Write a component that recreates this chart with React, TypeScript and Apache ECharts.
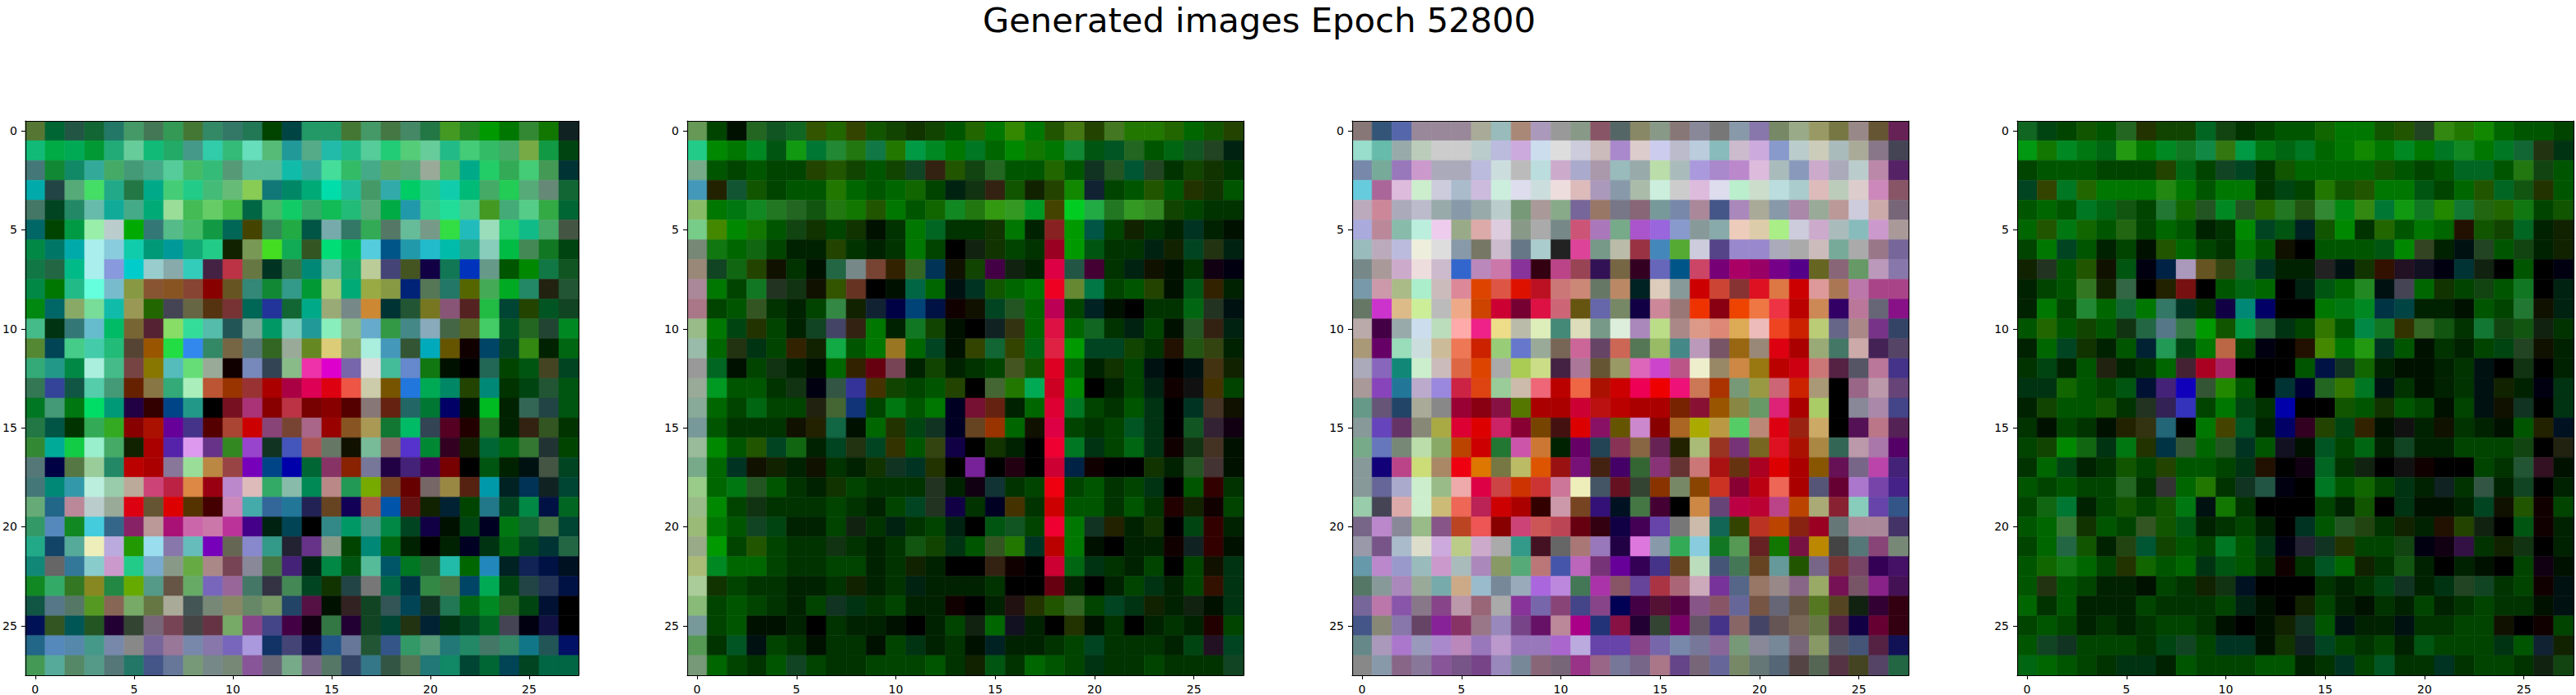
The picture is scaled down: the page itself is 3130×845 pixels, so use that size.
import { useEffect, useRef } from 'react';
import * as echarts from 'echarts';

const TITLE = 'Generated images Epoch 52800';
const TICKS = [0, 5, 10, 15, 20, 25];
const SIZE = 28;

// each row: 28 cells, short hex colours, left to right; rows top to bottom
const image1 = [
  '573 063 254 163 276 496 475 395 473 386 376 275 040 044 296 296 473 496 474 486 274 492 282 090 070 383 170 122',
  '1b7 0a4 0a5 093 2a7 6c9 1b7 2a6 498 3ca 3b7 6db 5b7 299 5a8 2ba 2b8 5c9 2c7 5c7 6c9 2b8 4c7 3b6 4a6 7a4 194 041',
  '477 183 186 3a9 4a6 497 4a8 5c9 4b6 3b7 597 5b9 5b9 1ba 3a9 4d9 3b6 4a8 5a6 5a7 9a9 4b6 0a8 2c6 3a5 4c7 495 033',
  '0aa 244 5a7 4d6 2a8 274 0a8 4c7 2c8 4b7 6b7 8c5 177 086 0a7 0da 2b9 496 3aa 0c6 2c8 1ca 0b7 4a6 2c5 5a7 687 163',
  '476 042 286 6ba 1a9 4a8 0a7 9d9 4b5 6c6 4b4 064 4b6 1c6 3a6 1b5 2b7 5a7 0a4 29a 3c8 2d9 4c8 492 4a7 5c8 3a4 063',
  '066 040 094 9ea bcc 0a0 377 5b8 4b6 194 065 440 385 2a4 054 7aa 376 3a5 576 6b9 798 3d4 2bb 9db 2c6 1b8 4a6 454',
  '084 076 0aa aee 8cd 1ca 097 099 1a7 2c8 120 795 4d2 1a5 352 0d7 0b5 5cd 058 29a 2bc 0ba 2a8 8cb 0b4 485 172 041',
  '174 264 0b8 aee 89d 0cc 9cc 8aa 3cb 424 b34 674 032 374 087 6ba 1a6 bc9 447 452 104 175 03b 698 050 080 174 152',
  '084 070 2b8 6fd 7bc 894 853 852 843 800 652 387 183 398 093 ac7 0a7 9a4 894 027 575 276 560 4a5 0a2 286 221 253',
  '081 066 8a6 7d9 1ba 995 260 445 664 531 733 065 239 163 0a8 9a7 788 c83 033 253 772 857 522 2b4 043 240 052 142',
  '4b8 031 377 6bc 0b6 763 523 8d6 3d9 5ba 255 7a9 096 7cb 299 8eb 8b8 6ac 394 488 8ab 464 562 4c6 052 262 243 082',
  '583 045 4c8 4ca 2b7 543 950 2d4 38e 386 764 577 362 9a9 682 dc7 8a6 aed 49b 353 0ab 650 100 046 042 381 020 061',
  '3a7 298 084 aed 4b8 744 870 5bb 6d7 9a9 100 78b 345 8b8 e3a d0c 76a ddd 4b9 68c 171 010 000 265 040 051 442 042',
  '375 349 154 5ca 497 620 874 3a7 aeb b53 930 933 a00 a04 d05 d01 e54 cca 750 27d 0a5 086 240 087 030 041 253 051',
  '072 497 071 0d6 097 204 300 048 298 000 712 a37 800 b34 700 800 500 877 621 266 073 006 010 0b2 020 365 244 051',
  '274 054 030 3a5 3a2 800 a10 609 438 500 a43 c00 847 743 a68 900 852 a95 173 0b6 345 502 200 272 020 321 352 030',
  '383 0a9 1c4 9ec 4a6 120 a00 52a d9e 638 382 94c 132 45b a55 676 110 7b9 866 53c 083 302 120 063 061 373 233 040',
  '577 004 574 9c9 286 b00 a00 879 9d9 b84 944 70b 048 00a 063 836 820 779 204 427 405 700 000 051 020 011 454 042',
  '477 087 39a bed 9ca ba9 c47 b24 d84 901 b8c dbb 3a6 8ba 085 b88 295 7a0 742 600 766 984 521 09a 022 035 122 043',
  '6a7 268 b89 bcc 9a9 d01 653 d00 530 400 c8b 4aa 369 279 225 642 105 a54 05a 611 120 023 040 278 042 084 014 062',
  '396 58b 182 4cd 368 826 b99 a17 c6a c7a b39 408 021 045 000 388 096 498 084 042 104 010 041 002 071 163 474 043',
  '2a8 146 5a9 eeb bad 290 9de 87a 6bb 70b 665 88c 398 223 638 898 040 087 061 020 000 020 002 031 061 042 033 264',
  '187 666 379 8cc c9c 2c8 7ac 898 6a4 a88 745 889 474 427 021 084 051 5b9 056 072 263 2ba 060 28b 022 125 014 012',
  '182 3a6 372 882 284 6a0 598 654 6a6 76b 969 476 334 485 042 130 244 777 064 034 384 474 046 0a5 041 244 235 014',
  '154 578 576 592 865 7a6 674 aa9 455 787 886 686 796 246 514 010 322 142 355 045 132 275 061 082 262 041 013 000',
  '015 352 055 252 203 343 767 745 444 634 7a6 848 448 404 101 374 203 142 043 231 023 031 042 062 445 001 114 000',
  '268 58b 58a 498 78a 888 769 979 78a 87a 76b a9d 136 447 114 258 679 253 358 396 597 277 286 476 386 178 255 016',
  '495 5a9 586 598 577 276 458 679 797 788 787 859 667 7a8 768 576 346 378 354 575 277 186 043 063 045 042 064 064',
];

const image2 = [
  '695 040 010 262 152 162 350 260 340 150 140 130 140 050 260 070 380 070 250 471 240 472 270 270 260 060 150 240',
  '2c8 080 070 082 051 191 073 283 271 174 270 094 082 070 072 060 080 170 070 183 051 052 262 050 061 152 242 021',
  '7a8 050 040 050 040 040 240 250 140 050 140 142 321 250 141 262 050 050 260 050 132 252 053 242 030 140 130 030',
  '49b 220 153 150 040 050 050 270 060 050 060 160 040 021 131 321 150 120 240 180 123 040 050 250 050 230 130 050',
  '8b6 070 071 182 272 262 151 271 170 250 070 050 160 182 271 391 392 092 440 0c2 2a4 272 392 382 140 040 030 030',
  '7c8 480 080 170 050 141 130 040 130 010 030 070 062 030 030 130 070 020 822 090 054 040 120 030 020 032 020 010',
  '787 171 060 161 040 020 020 240 030 020 030 070 040 000 121 130 040 030 902 090 051 030 030 021 120 042 231 021',
  '987 142 161 240 110 030 010 264 788 743 320 362 035 110 140 404 121 020 d04 254 403 030 021 110 010 030 101 001',
  'a89 070 040 172 232 131 110 350 632 000 010 064 060 011 032 150 060 070 e02 683 074 040 050 240 010 051 320 020',
  'a78 040 050 352 030 020 040 384 120 123 004 047 014 100 110 042 252 060 b05 040 022 010 000 030 030 061 232 011',
  '9b8 070 041 230 040 020 142 446 321 070 020 172 140 010 000 122 331 060 d14 060 162 030 021 040 010 252 321 021',
  '9ba 060 231 031 040 320 120 1a4 050 070 972 060 042 010 340 163 340 061 d24 090 042 042 140 030 210 251 341 020',
  '999 062 010 040 131 020 010 060 320 601 745 020 140 020 030 040 452 150 d02 060 020 130 040 011 000 011 431 120',
  '9a9 092 050 050 030 131 001 354 339 430 140 040 050 240 000 463 270 0a5 c02 080 000 020 040 021 100 111 430 040',
  '8a9 060 040 061 040 040 221 463 137 040 071 050 070 002 713 621 020 060 d03 072 040 030 050 031 000 032 432 110',
  '799 050 030 030 030 110 220 164 010 060 230 041 132 002 642 930 060 110 d04 040 030 040 052 031 000 152 323 101',
  '9b9 080 050 250 042 161 020 042 231 042 330 050 341 104 000 130 020 000 e03 072 031 040 061 031 100 131 432 010',
  '7a8 060 032 110 120 020 110 030 020 130 132 032 230 000 729 000 201 000 c03 024 100 000 000 130 020 252 433 010',
  '9c8 060 071 252 050 030 020 130 040 030 030 030 232 020 101 133 030 040 e01 040 050 030 040 031 000 050 300 030',
  '9b8 080 040 131 030 030 030 040 030 020 040 042 232 104 030 002 430 030 c00 050 050 030 050 030 200 120 100 040',
  '9b7 070 050 142 041 020 020 040 121 030 021 030 040 021 000 051 152 040 e03 070 132 220 020 130 000 041 300 020',
  '9a8 090 040 250 040 030 030 131 030 020 030 151 140 031 050 352 270 032 b00 070 010 000 020 020 100 122 300 010',
  'ab7 082 060 060 040 030 030 040 040 020 030 120 020 000 000 321 100 000 c03 061 031 030 020 040 000 040 110 031',
  'ac9 130 040 030 030 020 020 030 120 020 030 021 020 020 020 030 000 000 601 020 000 020 040 031 020 040 310 031',
  '8b7 040 050 040 030 020 040 132 031 030 040 020 020 100 000 020 211 230 250 362 040 042 031 120 020 121 010 031',
  '799 040 050 010 010 020 000 030 020 020 010 000 020 040 121 060 112 020 000 230 010 030 000 020 030 020 200 040',
  '595 030 052 011 040 030 010 030 030 010 040 031 020 030 010 022 020 020 030 040 042 030 030 030 020 041 212 042',
  '797 060 040 030 050 142 040 030 030 040 040 040 050 030 120 051 030 060 050 040 031 030 030 040 030 030 030 142',
];

const image3 = [
  '877 357 56a 989 989 989 aa9 9bb a87 a9b 999 898 856 566 886 898 877 889 777 89a 87a 786 9a8 996 774 988 653 625',
  '9dc 6ba 9aa bcb ccc ccc bcc bbd cad cde ddd ccd cbb a8c dcc cce bbc bcd 8bb cbc cad 89c bcc ccb abb aa9 878 445',
  '78a 7a9 97b c9c aab aab bbd cdd bbb bdd cac aac a9a 9bb 9aa bda abb a9d a8c b8c dbd abb 89b cac aab bcc b8a 526',
  '6cd a69 dbd cec ccd abc cbd ced dde cdd edd dbb a9b 89a aba ced ccc dbd dde bec cdc bdd acc dbb bcb dcc c8b 856',
  'bab c89 aab bbc 9aa 89a 9aa bcc 797 a99 8a8 769 976 778 867 799 78a a89 458 a8b aa9 89a a8a 9a9 b99 ccd caa 767',
  'aad b89 8ba bed ece 9a8 daa dcd 898 aaa 788 c57 a7b 7a8 a5c 96d 89c 899 8aa ecb dca ae8 ccd cac abb 8bb c9c a99',
  '9bb bab bbd eed ddd 89a 776 cbc 678 acc 222 d49 798 bba 934 48b 5a3 ccd 548 98c 98c aab aaa cbb 7a9 aaa 978 769',
  '788 a99 cac edd cbc 36c b8b c7a 839 301 b48 945 315 764 302 66b 058 c46 707 a06 906 708 508 662 867 696 b9b 87a',
  '79a c9a ab8 aec cbb d89 d40 d54 d10 b12 c77 c87 676 b86 022 dcb 899 c00 c43 833 d12 d74 c00 d99 a75 b7a a48 a48',
  '676 c3c db8 ce9 bbb ea8 c40 c03 703 d14 c67 651 66a 786 104 c89 977 e30 801 e40 e74 e34 b00 c85 306 b79 667 818',
  'baa 404 9aa cde bdb faa e28 ed8 bba deb 487 ddb 798 ded a8b bd8 a88 d98 d87 da5 ebb e42 c20 bc7 668 a88 738 346',
  'a97 606 9db cdd cb9 e75 c20 9c7 67c 9a9 765 c69 646 c65 575 9b6 488 b9b 756 961 987 d01 a00 9a7 476 caa 425 546',
  'aab 86b 187 cec cbb d64 d40 aaa ac5 cd8 424 a79 653 996 d6b c4c b58 eec 986 c84 971 b00 c01 c77 524 556 b79 438',
  'a99 84b 279 bac 98d c24 d41 9c9 cba e67 b00 e64 a10 c00 e05 e00 e17 c75 a30 797 994 c67 c20 a97 000 968 b9a 647',
  '698 657 246 aa9 888 903 801 814 570 a00 a00 c03 b11 b00 a00 a00 720 813 950 884 696 d27 a00 ac6 000 889 a8a 448',
  '899 64b 636 887 aa4 d03 d00 c26 803 740 411 d00 816 650 c8c 800 a62 aa0 b94 5c6 b87 d01 921 ca6 000 515 b78 525',
  '7a8 67b 787 bda 8a6 b40 c00 273 c5a c73 020 606 245 835 864 625 220 ab7 932 737 762 d12 a10 a84 365 b9a a7a 506',
  '899 107 b48 cd7 a86 e01 d70 774 bb6 d50 911 717 421 406 363 837 633 c77 a11 631 a02 d00 a00 850 615 768 b4a 427',
  '899 669 aac cec 9b8 eaa d04 c44 c30 c33 c79 eeb 456 612 343 830 786 840 c32 803 b01 e65 a00 557 603 a7c 74a 428',
  '9ca 445 daa cec cb7 e65 b25 c00 a00 300 c9a 742 317 012 474 403 000 c84 647 b04 b03 b48 b40 aa7 823 8cb 64a 358',
  '768 b8c 889 9b8 858 b42 e55 800 c47 c55 b45 601 301 104 405 64a 777 cba 165 340 b32 b40 821 902 677 a89 a89 436',
  '99a 758 abc ddc cad bc8 cac aaa 398 412 666 a77 97b 204 d7d 89a 3a5 8cd 172 595 622 170 714 b80 444 577 847 787',
  '69a b8c 99c 9bb c9c abb a8b 896 5a7 b77 45a b6b 737 609 305 438 642 bdb 457 475 642 699 250 768 733 746 305 416',
  '576 899 a8b 9a9 7aa ca8 9bc 789 9ab a6d b8d 475 a3a 856 649 a34 a67 cab 739 568 976 988 868 9a6 715 756 828 415',
  '769 b7a 85a 878 848 b9a 967 aaa 839 76a 847 448 848 005 404 513 504 858 856 669 754 667 654 572 542 121 303 301',
  '458 887 87a 646 829 836 978 98b 748 616 b89 a08 237 814 203 343 706 656 438 866 446 655 765 674 524 104 603 301',
  '688 a9b a7c 99b a8c b8b 97b b9c 97b 97b a6c bad 64a 64a 848 76a 78a 779 869 797 889 789 767 896 556 457 524 115',
  '888 89a 868 879 859 758 748 98b 789 867 767 938 968 779 768 a78 648 767 669 786 677 567 544 565 534 442 546 264',
];

const image4 = [
  '162 041 040 150 050 262 230 140 140 062 141 030 040 050 050 160 070 070 150 250 242 381 270 180 060 050 050 040',
  '091 170 082 071 061 291 070 082 172 184 371 094 071 061 072 060 070 180 070 082 070 072 182 070 072 163 231 031',
  '040 050 050 050 040 040 040 240 061 040 142 042 030 150 060 060 060 060 150 050 040 050 062 062 050 271 141 050',
  '042 340 072 260 070 070 070 281 070 050 070 070 030 041 040 270 150 250 070 070 051 040 060 250 062 151 230 050',
  '050 060 050 072 061 151 040 273 160 252 082 252 260 272 251 383 081 381 073 191 172 280 173 261 260 171 040 150',
  '060 250 071 160 050 261 040 060 050 020 030 080 042 051 022 150 080 030 260 050 070 060 210 150 140 062 020 120',
  '040 070 042 050 020 040 010 250 060 040 030 070 050 110 000 050 050 050 051 080 342 020 011 242 050 141 020 120',
  '120 232 050 250 110 051 001 024 a9b 652 341 162 032 020 020 222 011 130 310 212 112 001 033 121 000 050 000 001',
  '020 040 050 372 120 364 000 220 711 000 050 061 060 000 021 051 060 282 011 445 060 130 040 141 050 172 000 021',
  '020 070 040 283 060 163 070 376 032 030 104 087 006 000 000 070 071 082 034 044 020 020 010 050 040 273 110 021',
  '050 260 050 140 050 131 264 578 374 090 150 094 263 031 040 370 050 084 172 330 362 151 030 173 141 151 121 030',
  '020 060 042 130 020 050 023 295 041 070 b64 040 001 000 210 480 070 291 032 050 010 030 020 040 041 242 110 020',
  '030 041 020 050 221 020 030 060 423 a02 a26 000 000 000 050 014 132 160 020 010 010 020 030 011 000 131 000 020',
  '031 031 160 050 040 051 013 427 10b 353 280 050 000 033 003 262 370 072 011 030 010 020 030 011 120 020 001 031',
  '020 140 050 050 150 030 232 325 33b 040 070 041 030 00a 000 000 150 050 130 050 040 010 040 011 110 132 000 031',
  '030 010 040 030 010 220 331 267 000 070 440 052 020 006 302 240 041 320 010 111 020 110 030 020 010 050 220 012',
  '040 140 080 161 031 071 230 034 353 060 252 032 050 112 010 052 040 061 020 142 020 020 040 040 040 141 000 221',
  '030 060 041 020 030 150 040 240 050 050 040 031 210 000 101 062 030 121 000 111 100 000 000 040 030 253 312 010',
  '050 040 050 040 040 262 030 333 060 270 030 132 254 001 000 072 050 160 040 031 020 122 030 354 020 142 000 020',
  '040 161 073 020 040 150 040 150 071 011 170 030 000 000 000 040 020 150 000 031 010 010 020 042 110 250 100 040',
  '050 060 373 130 050 040 352 150 051 020 030 040 020 000 032 050 252 241 030 120 020 210 240 121 000 051 100 020',
  '040 060 264 150 020 241 053 140 050 040 072 050 031 001 223 132 230 040 040 141 001 101 314 030 120 131 000 020',
  '050 160 171 060 040 230 160 050 060 031 051 050 030 100 030 052 060 120 030 151 020 000 020 010 000 040 101 010',
  '050 231 050 040 020 020 010 040 030 120 131 012 000 000 000 030 020 030 041 132 020 031 242 142 030 040 100 011',
  '060 030 050 020 020 020 040 030 030 030 040 021 010 000 120 040 020 010 030 020 040 020 030 040 030 030 010 011',
  '040 050 040 020 030 020 030 040 040 030 010 000 010 120 132 050 011 020 020 011 030 030 040 040 110 000 100 040',
  '050 142 132 040 040 040 030 041 142 040 032 032 010 130 122 042 040 030 040 020 051 040 040 040 031 050 123 120',
  '061 060 050 040 030 031 031 020 050 040 040 040 050 050 020 030 032 040 052 030 030 032 030 040 040 030 121 141',
];

const images = [image1, image2, image3, image4];

const FONT = '"DejaVu Sans", sans-serif';
const PANEL_LEFT = 27;
const PANEL_STEP = 808;
const PANEL_TOP = 147;
const PANEL_SIZE = 676;

function cellsOf(rows: string[]) {
  const cells: { value: [number, number]; itemStyle: { color: string } }[] = [];
  rows.forEach((row, y) => {
    row.split(' ').forEach((c, x) => {
      cells.push({ value: [x, y], itemStyle: { color: '#' + c } });
    });
  });
  return cells;
}

export default function App() {
  const chartRef = useRef<HTMLDivElement>(null);

  useEffect(() => {
    document.body.style.margin = '0';
    if (!chartRef.current) return;
    const chart = echarts.init(chartRef.current, undefined, { renderer: 'svg' });

    const grids: any[] = [];
    const xAxes: any[] = [];
    const yAxes: any[] = [];
    const series: any[] = [];

    images.forEach((rows, i) => {
      grids.push({
        left: PANEL_LEFT + PANEL_STEP * i,
        top: PANEL_TOP,
        width: PANEL_SIZE,
        height: PANEL_SIZE,
        containLabel: false,
      });
      const axisLine = { show: true, onZero: false, lineStyle: { color: '#000', width: 1.1 } };
      const tick = { show: true, customValues: TICKS, length: 5, lineStyle: { color: '#000', width: 1.1 } };
      const label = { show: true, customValues: TICKS, color: '#000', fontSize: 14, fontFamily: FONT, margin: 10 };
      xAxes.push({
        gridIndex: i, type: 'value', min: -0.5, max: SIZE - 0.5, position: 'bottom', z: 10,
        axisLine, axisTick: tick, axisLabel: label, splitLine: { show: false },
      });
      xAxes.push({
        gridIndex: i, type: 'value', min: -0.5, max: SIZE - 0.5, position: 'top', z: 10,
        axisLine, axisTick: { show: false }, axisLabel: { show: false }, splitLine: { show: false },
      });
      yAxes.push({
        gridIndex: i, type: 'value', min: -0.5, max: SIZE - 0.5, inverse: true, position: 'left', z: 10,
        axisLine, axisTick: tick, axisLabel: label, splitLine: { show: false },
      });
      yAxes.push({
        gridIndex: i, type: 'value', min: -0.5, max: SIZE - 0.5, inverse: true, position: 'right', z: 10,
        axisLine, axisTick: { show: false }, axisLabel: { show: false }, splitLine: { show: false },
      });
      series.push({
        type: 'custom',
        xAxisIndex: i * 2,
        yAxisIndex: i * 2,
        clip: true,
        data: cellsOf(rows),
        renderItem: (_params: any, api: any) => {
          const x = api.value(0);
          const y = api.value(1);
          const p0 = api.coord([x - 0.5, y - 0.5]);
          const p1 = api.coord([x + 0.5, y + 0.5]);
          const color = api.visual('color');
          return {
            type: 'rect',
            shape: {
              x: Math.min(p0[0], p1[0]),
              y: Math.min(p0[1], p1[1]),
              width: Math.abs(p1[0] - p0[0]),
              height: Math.abs(p1[1] - p0[1]),
            },
            style: { fill: color, stroke: color, lineWidth: 0.6 },
          };
        },
      });
    });

    chart.setOption({
      animation: false,
      backgroundColor: '#fff',
      graphic: [
        {
          type: 'text',
          x: 1530,
          y: 24,
          style: {
            text: TITLE,
            font: `41.67px ${FONT}`,
            fill: '#000',
            textAlign: 'center',
            textVerticalAlign: 'middle',
          },
        },
      ],
      grid: grids,
      xAxis: xAxes,
      yAxis: yAxes,
      series,
    });

    return () => chart.dispose();
  }, []);

  return <div ref={chartRef} style={{ width: 3130, height: 845 }} />;
}
